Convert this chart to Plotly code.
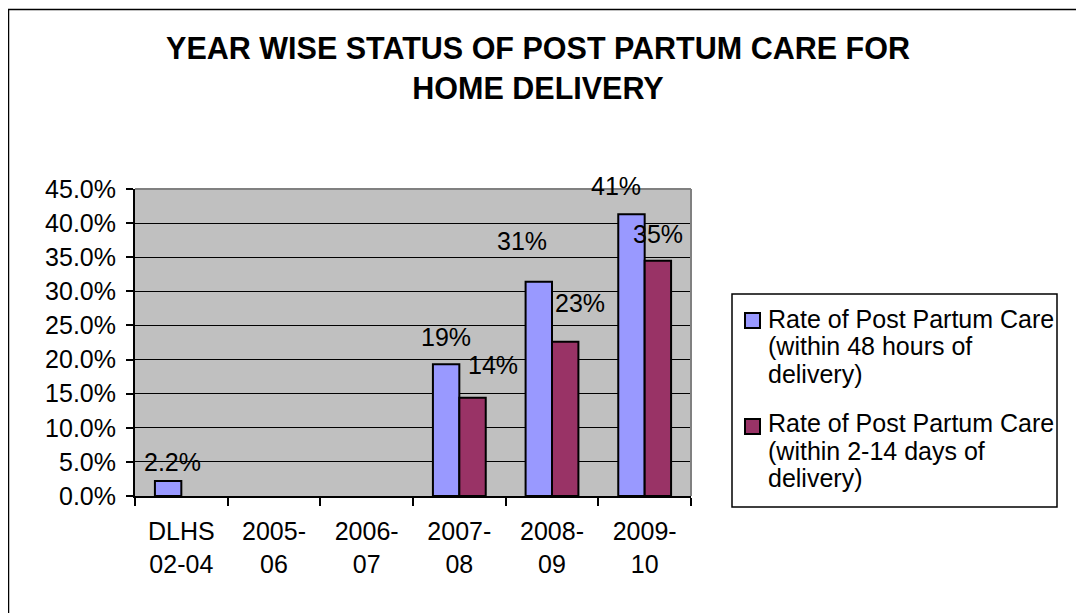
import plotly.graph_objects as go

# ---------------- data ----------------
categories = ["DLHS<br>02-04", "2005-<br>06", "2006-<br>07", "2007-<br>08", "2008-<br>09", "2009-<br>10"]
series_names = [
    "Rate of Post Partum Care (within 48 hours of delivery)",
    "Rate of Post Partum Care (within 2-14 days of delivery)",
]
legend_lines = [
    ["Rate of Post Partum Care", "(within 48 hours of", "delivery)"],
    ["Rate of Post Partum Care", "(within 2-14 days of", "delivery)"],
]
within_48h = [0.022, None, None, 0.193, 0.314, 0.413]
within_2_14d = [None, None, None, 0.144, 0.226, 0.345]
labels_48h = ["2.2%", "", "", "19%", "31%", "41%"]
labels_2_14d = ["", "", "", "14%", "23%", "35%"]
y_ticks = [0.0, 0.05, 0.10, 0.15, 0.20, 0.25, 0.30, 0.35, 0.40, 0.45]
title_text = "YEAR WISE STATUS OF POST PARTUM CARE FOR<br>HOME DELIVERY"

# ---------------- styling / placement ----------------
FONT = "Liberation Sans, Arial, sans-serif"
FS = 25
colors = ["#9999FF", "#993366"]
# label placement (pixel offsets from category centre, gap above bar top)
label_dx_48h = [-9, 0, 0, -13, -30, -29]
label_gap_48h = [10, 0, 0, 19, 32, 19]
label_dx_2_14d = [0, 0, 0, 34, 28, 13]
label_gap_2_14d = [0, 0, 0, 24, 30, 18]

W_FIG, H_FIG = 1084, 613
OFF = 8  # page offset of the figure (body margin)
# plot area in page pixels
L, R, T, B = 135, 691, 189, 496


def px_x(x):
    return (x - L) / (R - L)


def px_y(y):
    return (B - y) / (B - T)


fig = go.Figure()
for vals, name, col in zip([within_48h, within_2_14d], series_names, colors):
    fig.add_trace(go.Bar(
        x=categories, y=vals, name=name,
        marker=dict(color=col, line=dict(color="black", width=2)),
        showlegend=False,
    ))

annotations = []
for labs, vals, dxs, gaps in [
    (labels_48h, within_48h, label_dx_48h, label_gap_48h),
    (labels_2_14d, within_2_14d, label_dx_2_14d, label_gap_2_14d),
]:
    for cat, lab, v, dx, g in zip(categories, labs, vals, dxs, gaps):
        if lab and v is not None:
            annotations.append(dict(
                x=cat, y=v, xref="x", yref="y", text=lab, showarrow=False,
                xanchor="center", yanchor="middle", xshift=dx, yshift=g + 0.35 * FS,
                font=dict(family=FONT, size=FS, color="black"),
            ))

# custom legend
shapes = []
legend_box = (732, 294, 1057, 507)
shapes.append(dict(type="rect", xref="paper", yref="paper",
                   x0=px_x(legend_box[0]), x1=px_x(legend_box[2]),
                   y0=px_y(legend_box[3]), y1=px_y(legend_box[1]),
                   line=dict(color="black", width=1.5), fillcolor="white", layer="above"))
marker_tops = [313, 419]
baselines = [[328, 355, 383], [432, 460, 487]]
for i in range(2):
    shapes.append(dict(type="rect", xref="paper", yref="paper",
                       x0=px_x(745), x1=px_x(760),
                       y0=px_y(marker_tops[i] + 15), y1=px_y(marker_tops[i]),
                       line=dict(color="black", width=2), fillcolor=colors[i], layer="above"))
    for line, bl in zip(legend_lines[i], baselines[i]):
        annotations.append(dict(
            x=px_x(766), y=px_y(bl - 0.35 * FS), xref="paper", yref="paper",
            text=line, showarrow=False, xanchor="left", yanchor="middle",
            font=dict(family=FONT, size=FS, color="black"),
        ))

# plot-area top/right border (gray)
shapes.append(dict(type="line", xref="paper", yref="paper", x0=0, x1=1, y0=1, y1=1,
                   line=dict(color="#808080", width=2), layer="above"))
shapes.append(dict(type="line", xref="paper", yref="paper", x0=1, x1=1, y0=0, y1=1,
                   line=dict(color="#808080", width=2), layer="above"))
# outer chart frame (left & top visible)
shapes.append(dict(type="rect", xref="paper", yref="paper",
                   x0=px_x(8.5), x1=px_x(1150), y0=px_y(700), y1=px_y(9.5),
                   line=dict(color="black", width=1.5), layer="below"))

fig.update_layout(
    width=W_FIG, height=H_FIG,
    margin=dict(l=L - OFF, r=W_FIG - (R - OFF), t=T - OFF, b=H_FIG - (B - OFF), autoexpand=False),
    paper_bgcolor="white", plot_bgcolor="#C0C0C0",
    barmode="group", bargap=0.43, bargroupgap=0,
    font=dict(family=FONT, size=FS, color="black"),
    title=dict(text="<b>" + title_text + "</b>", x=(538 - OFF) / W_FIG, xref="container",
               xanchor="center",
               y=1 - (59 - OFF) / H_FIG, yref="container", yanchor="middle",
               font=dict(family=FONT, size=30.5, color="black")),
    showlegend=False,
    annotations=annotations,
    shapes=shapes,
)
fig.update_xaxes(
    type="category", categoryorder="array", categoryarray=categories,
    showline=True, linecolor="black", linewidth=2,
    ticks="outside", ticklen=8, tickcolor="black", tickwidth=1.5, tickson="boundaries",
    showgrid=False, tickfont=dict(family=FONT, size=FS, color="black"),
    ticklabelstandoff=12,
)
fig.update_yaxes(
    range=[0, 0.45], tickvals=y_ticks, tickformat=".1%",
    showline=True, linecolor="black", linewidth=2,
    ticks="outside", ticklen=7, tickcolor="black", tickwidth=1.5,
    showgrid=True, gridcolor="black", gridwidth=1, zeroline=False,
    tickfont=dict(family=FONT, size=FS, color="black"),
    ticklabelstandoff=5,
)

fig.write_html("out.html")
